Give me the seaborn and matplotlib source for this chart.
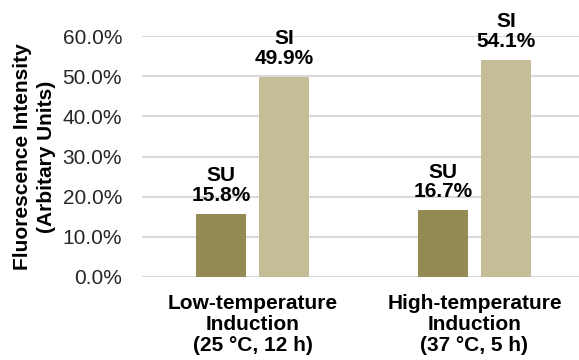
import matplotlib
matplotlib.use("Agg")
import matplotlib.pyplot as plt
from matplotlib.ticker import PercentFormatter
import seaborn as sns
import pandas as pd

categories = ["Low-temperature\nInduction\n(25 \u00b0C, 12 h)",
              "High-temperature\nInduction\n(37 \u00b0C, 5 h)"]
series = ["SU", "SI"]
su_values = [15.8, 16.7]
si_values = [49.9, 54.1]
y_ticks = [0, 10, 20, 30, 40, 50, 60]

df = pd.DataFrame({
    "condition": categories * 2,
    "fraction": series[0:1] * 2 + series[1:2] * 2,
    "value": su_values + si_values,
})

sns.set_theme(style="white")
plt.rcParams["font.family"] = ["Liberation Sans", "DejaVu Sans"]

fig = plt.figure(figsize=(5.79, 3.60), dpi=100)
W, H = 579, 360
ax = fig.add_axes([141.5 / W, (H - 277) / H, 444 / W, 241 / H])

palette = {"SU": "#948A54", "SI": "#C4BD97"}
sns.barplot(data=df, x="condition", y="value", hue="fraction",
            order=categories, hue_order=series, palette=palette,
            width=0.568, gap=0.206, saturation=1, legend=False,
            edgecolor="none", ax=ax)

ax.set_xlim(-0.5, 1.5)
ax.set_ylim(0, 60)
ax.set_yticks(y_ticks)
ax.yaxis.set_major_formatter(PercentFormatter(decimals=1))
ax.grid(axis="y", color="#D9D9D9", linewidth=1.5, zorder=0)
ax.set_axisbelow(True)
for side in ["left", "right", "top", "bottom"]:
    ax.spines[side].set_visible(False)

ax.tick_params(axis="y", length=0, pad=14, labelsize=15, labelcolor="#262626")
ax.tick_params(axis="x", length=0, pad=12, labelsize=15, labelcolor="#000000")
for lbl in ax.get_xticklabels():
    lbl.set_fontweight("bold")
    lbl.set_linespacing(1.15)

ax.set_xlabel("")
ax.set_ylabel("Fluorescence Intensity\n(Arbitary Units)", fontsize=15,
              fontweight="bold", color="#000000", labelpad=5, linespacing=1.33)

# value labels above each bar
for container, name in zip(ax.containers, series):
    for bar in container:
        h = bar.get_height()
        ax.annotate(f"{name}\n{h:.1f}%",
                    xy=(bar.get_x() + bar.get_width() / 2, h),
                    xytext=(0, 6.5), textcoords="offset points",
                    ha="center", va="bottom", fontsize=15,
                    fontweight="bold", color="#000000", linespacing=1.02)

fig.savefig("out.png", dpi=100)
